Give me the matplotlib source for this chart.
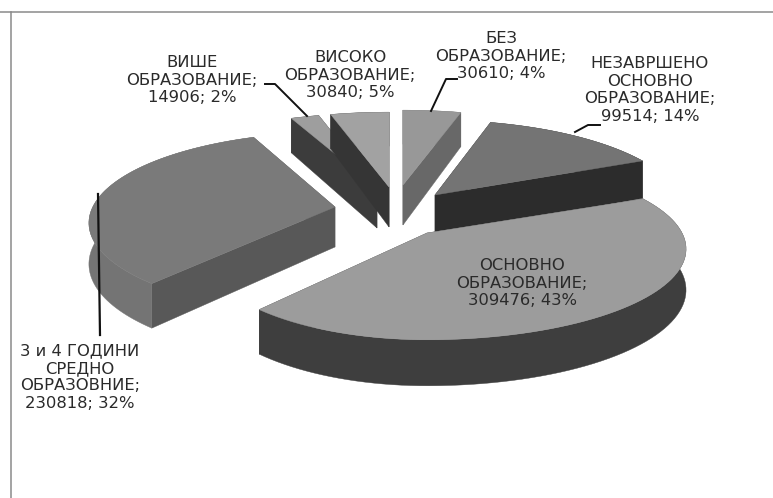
import matplotlib
matplotlib.use('Agg')
import matplotlib.pyplot as plt
from matplotlib.patches import Polygon
import numpy as np

plt.rcParams['font.family'] = ['DejaVu Sans']

# clockwise from 12 o'clock
categories = ['БЕЗ\nОБРАЗОВАНИЕ;', 'НЕЗАВРШЕНО\nОСНОВНО\nОБРАЗОВАНИЕ;', 'ОСНОВНО\nОБРАЗОВАНИЕ;',
              '3 и 4 ГОДИНИ\nСРЕДНО\nОБРАЗОВНИЕ;', 'ВИШЕ\nОБРАЗОВАНИЕ;', 'ВИСОКО\nОБРАЗОВАНИЕ;']
values = [30610, 99514, 309476, 230818, 14906, 30840]
percents = ['4%', '14%', '43%', '32%', '2%', '5%']

# where each exploded slice's tip ends up on the page
apex = [(403, 185), (435, 195), (427, 233), (335, 207), (377, 188), (389, 187)]
top_colors = ['#989898', '#747474', '#9c9c9c', '#7a7a7a', '#9e9e9e', '#a2a2a2']
cut_colors = ['#686868', '#2c2c2c', '#444444', '#585858', '#3c3c3c', '#353535']
outer_colors = ['#686868', '#2c2c2c', '#3e3e3e', '#747474', '#3c3c3c', '#353535']
label_pos = [(501, 56), (650, 90), (522, 283), (80, 377), (192, 80), (350, 75)]
# Excel's perspective squeezes some slices a bit, right and left of the tip
right_scale = [1, 0.96, 1, 1, 1, 1]
left_scale = [1, 1, 0.87, 0.95, 1, 1]

# perspective of the tilted pie
RX, RY, K, DEPTH = 255, 88, 0.176, 40


def project(theta, x0, y0, sr, sl):
    u, v = np.sin(theta), np.cos(theta)
    w = 1 + K * v
    sx = np.where(u >= 0, sr, sl)
    return x0 + sx * RX * u / w, y0 - RY * v / w, DEPTH * (1 - 0.15 * v)


fig = plt.figure(figsize=(7.73, 4.98), dpi=100)
ax = fig.add_axes([0, 0, 1, 1])
ax.set_xlim(0, 773)
ax.set_ylim(498, 0)
ax.axis('off')

# scanned frame: only top and left survive
ax.plot([0, 773], [12, 12], color='#8a8a8a', lw=1.1)
ax.plot([11, 11], [12, 498], color='#8a8a8a', lw=1.1)

total = sum(values)
edges = np.radians(np.cumsum([0] + values) / total * 360)

# back to front
for i in [4, 5, 0, 1, 3, 2]:
    x0, y0 = apex[i]
    t = np.linspace(edges[i], edges[i + 1], 80)
    px, py, d = project(t, x0, y0, right_scale[i], left_scale[i])
    for j in [0, -1]:
        quad = [(x0, y0), (px[j], py[j]), (px[j], py[j] + d[j]), (x0, y0 + DEPTH)]
        ax.add_patch(Polygon(quad, closed=True, fc=cut_colors[i], ec=cut_colors[i], lw=0.3))
    wall = list(zip(px, py)) + list(zip(px[::-1], (py + d)[::-1]))
    ax.add_patch(Polygon(wall, closed=True, fc=outer_colors[i], ec=outer_colors[i], lw=0.3))
    top = [(x0, y0)] + list(zip(px, py))
    ax.add_patch(Polygon(top, closed=True, fc=top_colors[i], ec=top_colors[i], lw=0.3))

# leader lines
ax.plot([265, 275, 307], [84, 84, 116], color='#111111', lw=1.4)
ax.plot([457, 446, 431], [79, 79, 111], color='#111111', lw=1.4)
ax.plot([600, 588, 575], [125, 125, 132], color='#111111', lw=1.4)
ax.plot([98, 100], [194, 335], color='#111111', lw=1.6)

for i, name in enumerate(categories):
    txt = f'{name}\n{values[i]}; {percents[i]}'
    ax.text(label_pos[i][0], label_pos[i][1], txt, ha='center', va='center', fontsize=11.8,
            color='#2a2a2a', linespacing=1.2)

fig.savefig('out.png', dpi=100)
